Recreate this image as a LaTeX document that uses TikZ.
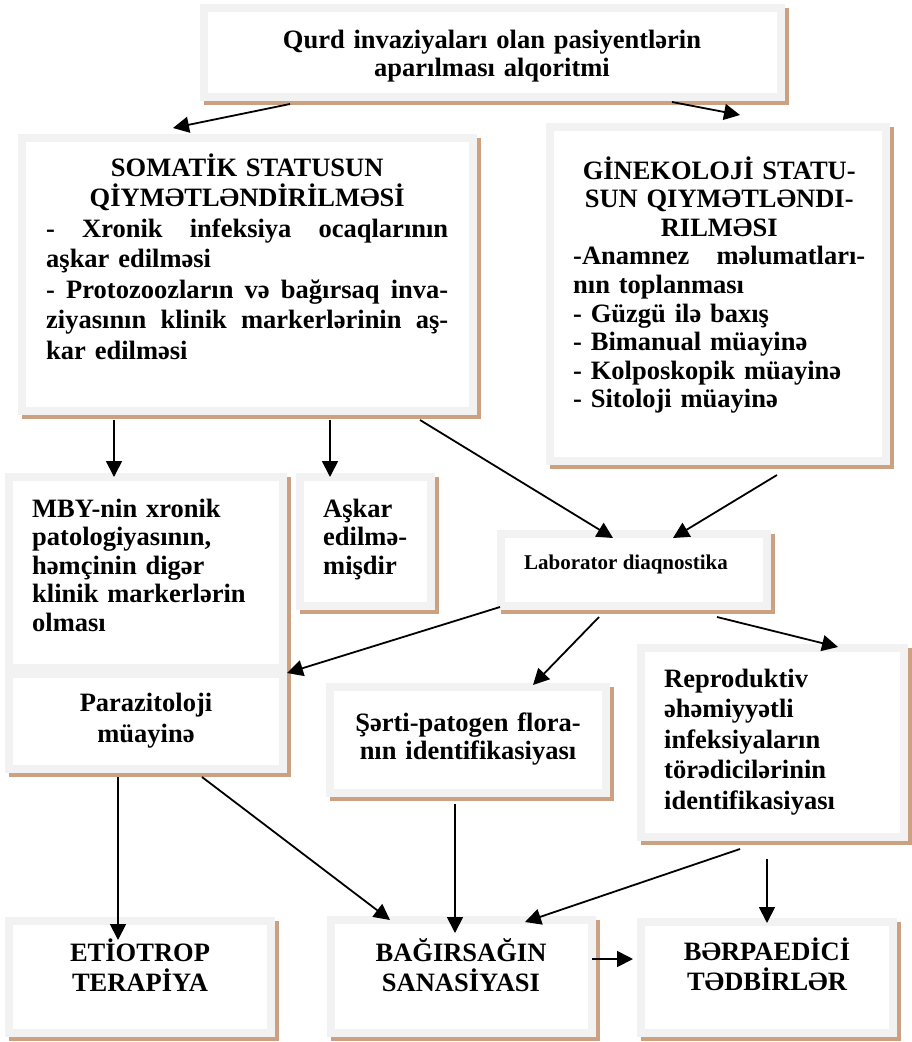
\documentclass[tikz,border=0pt]{standalone}
\usepackage{fontspec}
\setmainfont{Liberation Serif}
\usetikzlibrary{arrows.meta,calc}
\definecolor{framec}{RGB}{242,242,242}
\definecolor{shadowc}{RGB}{204,161,130}
\newcommand\pbox[5]{\node[pbox, minimum width={#4-#2-8}, minimum height={#5-#3-8}] (#1) at ({(#2+#4)/2},{(#3+#5)/2}) {};}
\newcommand\jline[2]{\leavevmode\hbox to #1{#2}}
\tikzset{
  pbox/.style={draw=framec, line width=8pt, fill=white, inner sep=0pt, outer sep=4pt,
    preaction={fill=shadowc, draw=shadowc, line width=8pt, transform canvas={shift={(4pt,-4pt)}}}},
  txt/.style={font=\fontsize{26.5}{#1}\selectfont\bfseries, inner sep=0pt},
  txt/.default=30,
  arr/.style={-{Triangle[length=16pt,width=16pt]}, line width=1.8pt},
}
\begin{document}
\begin{tikzpicture}[x=1pt,y=-1pt]
\useasboundingbox (0,0) rectangle (911,1042);
% boxes
\pbox{top}{200}{4}{785}{101}
\pbox{som}{18}{134}{477}{415}
\pbox{gin}{546}{123}{890}{465}
\pbox{mby}{5}{473}{287}{672}
\pbox{ask}{296}{473}{435}{610}
\pbox{lab}{497}{530}{771}{610}
\pbox{par}{5}{670}{287}{773}
\pbox{ser}{326}{683}{610}{797}
\pbox{rep}{637}{644}{908}{841}
\pbox{eti}{5}{917}{275}{1037}
\pbox{bag}{327}{916}{596}{1037}
\pbox{ber}{637}{918}{897}{1037}
% texts
\node[txt=28, anchor=base, text width=560pt, align=center] (topT) at (492,48)
  {Qurd invaziyaları olan pasiyentlərin\\aparılması alqoritmi};
\node[txt=30.5, anchor=base west, text width=402pt, align=left] (somT) at (46,176) {%
\makebox[402pt][c]{SOMATİK STATUSUN}\\
\makebox[402pt][c]{QİYMƏTLƏNDİRİLMƏSİ}\\
\jline{402pt}{-\hfill Xronik\hfill infeksiya\hfill ocaqlarının}\\
aşkar edilməsi\\
\jline{402pt}{-\hfill Protozoozların\hfill və\hfill bağırsaq\hfill inva-}\\
\jline{402pt}{ziyasının\hfill klinik\hfill markerlərinin\hfill aş-}\\
kar edilməsi};
\node[txt=28.6, anchor=base west, text width=292pt, align=left] (ginT) at (573,179) {%
\makebox[292pt][c]{GİNEKOLOJİ STATU-}\\
\makebox[292pt][c]{SUN QIYMƏTLƏNDI-}\\
\makebox[292pt][c]{RILMƏSI}\\
\jline{292pt}{-Anamnez\hfill məlumatları-}\\
nın toplanması\\
- Güzgü ilə baxış\\
- Bimanual müayinə\\
- Kolposkopik müayinə\\
- Sitoloji müayinə};
\node[txt=28.5, anchor=base west, text width=250pt, align=left] (mbyT) at (32,517)
  {MBY-nin xronik\\patologiyasının,\\həmçinin digər\\klinik markerlərin\\olması};
\node[txt=28.5, anchor=base west, text width=105pt, align=left] (askT) at (323,517)
  {Aşkar\\edilmə-\\mişdir};
\node[font=\fontsize{21}{25}\selectfont\bfseries, inner sep=0pt, anchor=base west] (labT) at (524,569)
  {Laborator diaqnostika};
\node[txt=31, anchor=base, text width=260pt, align=center] (parT) at (146,711)
  {Parazitoloji\\müayinə};
\node[txt=28.5, anchor=base, text width=270pt, align=center] (serT) at (468,731)
  {Şərti-patogen flora-\\nın identifikasiyası};
\node[txt=30.5, anchor=base west, text width=235pt, align=left] (repT) at (664,687)
  {Reproduktiv\\əhəmiyyətli\\infeksiyaların\\törədicilərinin\\identifikasiyası};
\node[txt=30, anchor=base, text width=250pt, align=center] (etiT) at (140,961)
  {ETİOTROP\\TERAPİYA};
\node[txt=30, anchor=base, text width=250pt, align=center] (bagT) at (461,961)
  {BAĞIRSAĞIN\\SANASİYASI};
\node[txt=30, anchor=base, text width=250pt, align=center] (berT) at (767,960)
  {BƏRPAEDİCİ\\TƏDBİRLƏR};
% connectors
\draw[arr] ($(top.south west)+(90,3)$) -- ($(som.north west)+(155,-6)$);
\draw[arr] ($(top.south west)+(472,1)$) -- ($(gin.north west)+(194,-8)$);
\draw[arr] ($(som.south west)+(96,5)$) -- ($(mby.north west)+(109,4)$);
\draw[arr] ($(som.south west)+(312,5)$) -- ($(ask.north west)+(34,4)$);
\draw[arr] ($(som.south west)+(402,5)$) -- ($(lab.north west)+(116,8)$);
\draw[arr] ($(gin.south west)+(231,10)$) -- ($(lab.north west)+(176,8)$);
\draw[arr] ($(lab.south west)+(3,-3)$) -- ($(par.north east)+(0,3)$);
\draw[arr] ($(lab.south west)+(102,7)$) -- ($(ser.north west)+(207,2)$);
\draw[arr] ($(lab.south west)+(220,7)$) -- ($(rep.north west)+(201,3)$);
\draw[arr] ($(par.south west)+(113,4)$) -- ($(eti.north west)+(113,23)$);
\draw[arr] ($(par.south west)+(197,4)$) -- ($(bag.north west)+(63,4)$);
\draw[arr] ($(ser.south west)+(129,7)$) -- ($(bag.north west)+(128,17)$);
\draw[arr] ($(rep.south west)+(103,8)$) -- ($(bag.north west)+(198,6)$);
\draw[arr] ($(rep.south west)+(130,18)$) -- ($(ber.north west)+(130,5)$);
\draw[arr] ($(bag.north east)+(-4,43)$) -- ($(ber.north west)+(-4,41)$);
\end{tikzpicture}
\end{document}
